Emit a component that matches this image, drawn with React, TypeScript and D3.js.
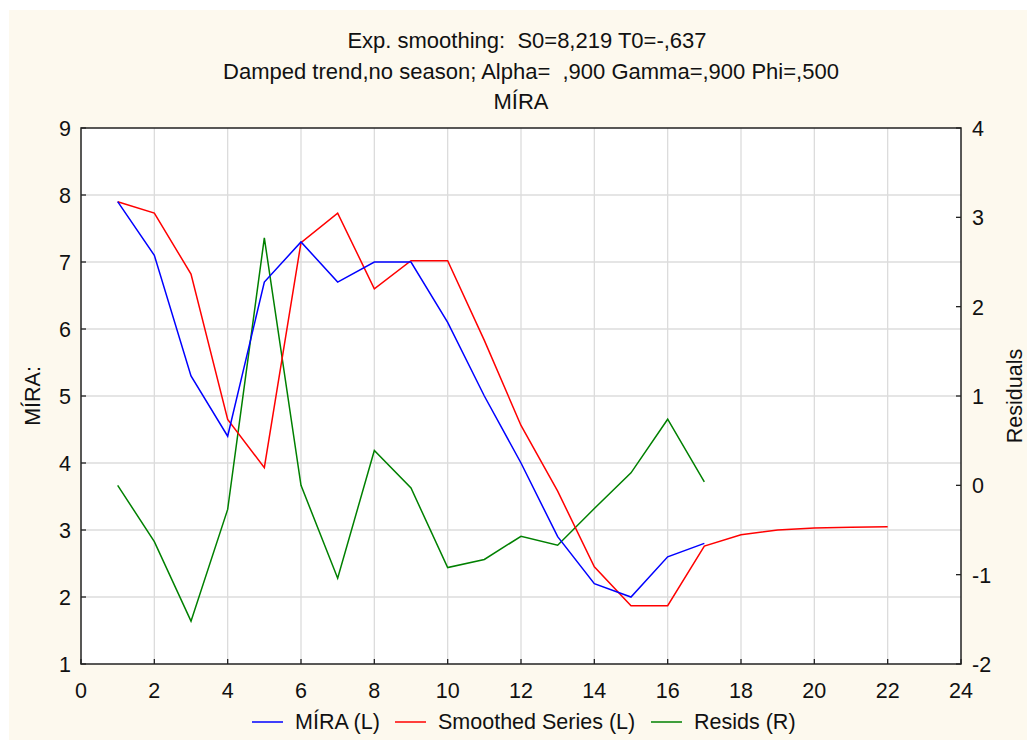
import React from "react";
import * as d3 from "d3";

const xValues = [1, 2, 3, 4, 5, 6, 7, 8, 9, 10, 11, 12, 13, 14, 15, 16, 17, 18, 19, 20, 21, 22];
const mira = [7.9, 7.1, 5.3, 4.4, 6.7, 7.3, 6.7, 7.0, 7.0, 6.1, 5.0, 4.0, 2.9, 2.2, 2.0, 2.6, 2.8];
const smoothed = [7.9, 7.73, 6.82, 4.65, 3.93, 7.29, 7.73, 6.6, 7.02, 7.02, 5.83, 4.56, 3.58, 2.45, 1.87, 1.87, 2.76, 2.93, 3.0, 3.03, 3.04, 3.05];
const resids = [0.0, -0.63, -1.52, -0.27, 2.77, 0.0, -1.04, 0.39, -0.03, -0.92, -0.83, -0.57, -0.67, -0.26, 0.14, 0.74, 0.04];

const xTicks = [0, 2, 4, 6, 8, 10, 12, 14, 16, 18, 20, 22, 24];
const yLeftTicks = [1, 2, 3, 4, 5, 6, 7, 8, 9];
const yRightTicks = [-2, -1, 0, 1, 2, 3, 4];

const titleLines = [
  "Exp. smoothing:  S0=8,219 T0=-,637",
  "Damped trend,no season; Alpha=  ,900 Gamma=,900 Phi=,500",
  "MÍRA",
];
const legendItems = [
  { label: "MÍRA (L)", color: "#0000ff" },
  { label: "Smoothed Series (L)", color: "#ff0000" },
  { label: "Resids (R)", color: "#008000" },
];

const W = 1027;
const H = 740;
const plot = { left: 81, right: 961, top: 128, bottom: 664 };
const FONT = "'Liberation Sans', Arial, sans-serif";

export default function App() {
  const x = d3.scaleLinear().domain([0, 24]).range([plot.left, plot.right]);
  const yL = d3.scaleLinear().domain([1, 9]).range([plot.bottom, plot.top]);
  const yR = d3.scaleLinear().domain([-2, 4]).range([plot.bottom, plot.top]);

  const lineL = d3
    .line<[number, number]>()
    .x((d) => x(d[0]))
    .y((d) => yL(d[1]));
  const lineR = d3
    .line<[number, number]>()
    .x((d) => x(d[0]))
    .y((d) => yR(d[1]));

  const miraPts = mira.map((v, i) => [xValues[i], v] as [number, number]);
  const smPts = smoothed.map((v, i) => [xValues[i], v] as [number, number]);
  const resPts = resids.map((v, i) => [xValues[i], v] as [number, number]);

  const legendX = [252, 395, 651];
  const titleDx = [6, 10, 0];

  return (
    <div style={{ position: "absolute", left: 0, top: 0 }}>
      <svg width={W} height={H} style={{ display: "block" }} fontFamily={FONT}>
        <rect x={0} y={0} width={W} height={H} fill="#ffffff" />
        <rect x={9} y={10} width={W - 9} height={H - 10} fill="#fdf9ee" />
        <rect
          x={plot.left}
          y={plot.top}
          width={plot.right - plot.left}
          height={plot.bottom - plot.top}
          fill="#ffffff"
        />
        {/* grid */}
        {xTicks
          .filter((t) => t > 0 && t < 24)
          .map((t) => (
            <line key={"gx" + t} x1={x(t)} x2={x(t)} y1={plot.top} y2={plot.bottom} stroke="#dcdcdc" strokeWidth={1.3} />
          ))}
        {yLeftTicks
          .filter((t) => t > 1 && t < 9)
          .map((t) => (
            <line key={"gy" + t} x1={plot.left} x2={plot.right} y1={yL(t)} y2={yL(t)} stroke="#dcdcdc" strokeWidth={1.3} />
          ))}
        {/* series */}
        <path d={lineR(resPts) || ""} fill="none" stroke="#008000" strokeWidth={1.5} />
        <path d={lineL(smPts) || ""} fill="none" stroke="#ff0000" strokeWidth={1.5} />
        <path d={lineL(miraPts) || ""} fill="none" stroke="#0000ff" strokeWidth={1.5} />
        {/* frame */}
        <rect
          x={plot.left}
          y={plot.top}
          width={plot.right - plot.left}
          height={plot.bottom - plot.top}
          fill="none"
          stroke="#222"
          strokeWidth={1.5}
        />
        {/* ticks */}
        {xTicks.map((t) => (
          <g key={"xt" + t}>
            <line x1={x(t)} x2={x(t)} y1={plot.bottom} y2={plot.bottom - 5} stroke="#222" strokeWidth={1.3} />
            <text x={x(t)} y={698} textAnchor="middle" fontSize={21.5} fill="#111">
              {t}
            </text>
          </g>
        ))}
        {yLeftTicks.map((t) => (
          <g key={"yl" + t}>
            <line x1={plot.left} x2={plot.left + 5} y1={yL(t)} y2={yL(t)} stroke="#222" strokeWidth={1.3} />
            <text x={71} y={yL(t) + 8} textAnchor="end" fontSize={21.5} fill="#111">
              {t}
            </text>
          </g>
        ))}
        {yRightTicks.map((t) => (
          <g key={"yr" + t}>
            <line x1={plot.right} x2={plot.right - 5} y1={yR(t)} y2={yR(t)} stroke="#222" strokeWidth={1.3} />
            <text x={972} y={yR(t) + 8} textAnchor="start" fontSize={21.5} fill="#111">
              {t}
            </text>
          </g>
        ))}
        {/* axis titles */}
        <text transform={`translate(40,${(plot.top + plot.bottom) / 2}) rotate(-90)`} textAnchor="middle" fontSize={21.5} fill="#111">
          MÍRA:
        </text>
        <text transform={`translate(1022,${(plot.top + plot.bottom) / 2}) rotate(-90)`} textAnchor="middle" fontSize={21.5} fill="#111">
          Residuals
        </text>
        {/* title */}
        {titleLines.map((s, i) => (
          <text
            key={"t" + i}
            x={(plot.left + plot.right) / 2 + titleDx[i]}
            y={48 + i * 30.5}
            textAnchor="middle"
            fontSize={22}
            fill="#111"
            style={{ whiteSpace: "pre" }}
          >
            {s}
          </text>
        ))}
        {/* legend */}
        {legendItems.map((it, i) => (
          <g key={"lg" + i}>
            <line x1={legendX[i]} x2={legendX[i] + 31} y1={722} y2={722} stroke={it.color} strokeWidth={1.5} />
            <text x={legendX[i] + 43} y={729} fontSize={21.5} fill="#111">
              {it.label}
            </text>
          </g>
        ))}
      </svg>
    </div>
  );
}
